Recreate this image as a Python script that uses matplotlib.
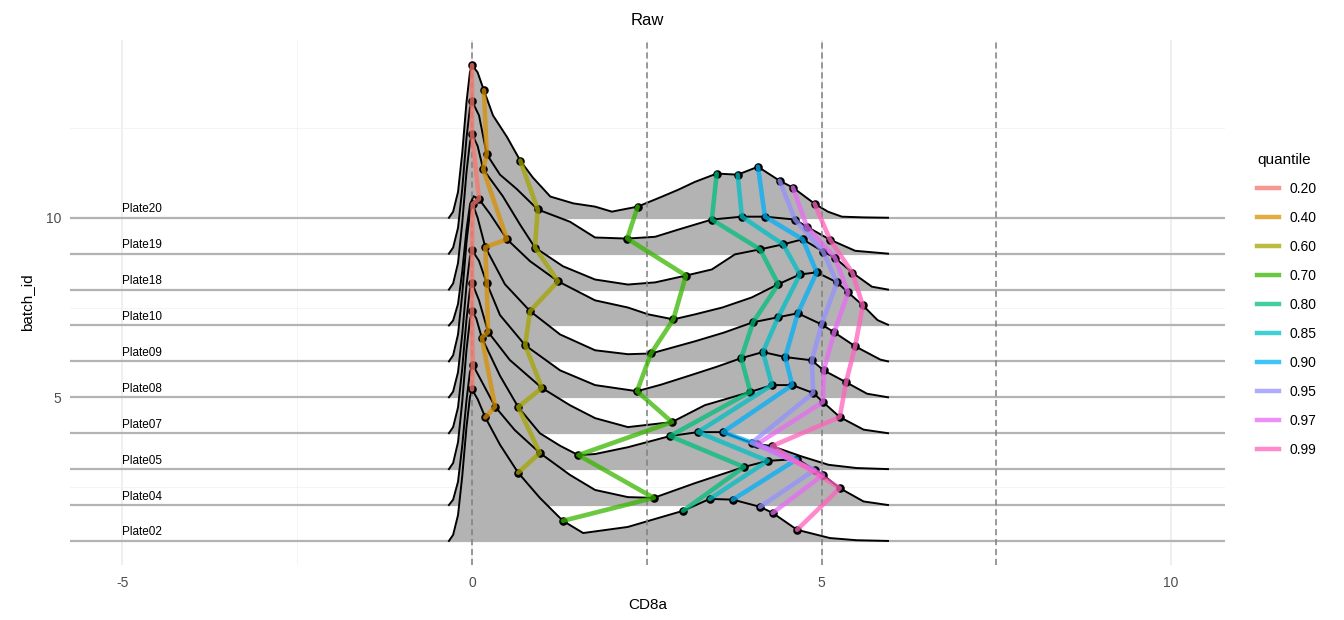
import numpy as np
import matplotlib.pyplot as plt
from matplotlib.lines import Line2D

plt.rcParams['font.family'] = ['Liberation Sans', 'DejaVu Sans']
plt.rcParams['axes.unicode_minus'] = False

# ridges, bottom to top
batches = ['Plate02', 'Plate04', 'Plate05', 'Plate07', 'Plate08',
           'Plate09', 'Plate10', 'Plate18', 'Plate19', 'Plate20']
batch_pos = [1, 2, 3, 4, 5, 6, 7, 8, 9, 10]

quantile_labels = ['0.20', '0.40', '0.60', '0.70', '0.80',
                   '0.85', '0.90', '0.95', '0.97', '0.99']
quantile_colors = ['#F8766D', '#D89000', '#A3A500', '#39B600', '#00BF7D',
                   '#00BFC4', '#00B0F6', '#9590FF', '#E76BF3', '#FF62BC']

# density outlines (x = CD8a, h = ridge height)
x_p02 = [-0.33, -0.27, -0.2, -0.14, -0.08, -0.03, 0.0, 0.08, 0.19, 0.4, 0.66, 0.97, 1.3, 1.59, 2.23, 2.72, 3.02, 3.4, 3.73, 4.12, 4.3, 4.65, 5.12, 5.5, 5.95]
h_p02 = [0, 0.17, 0.72, 1.8, 3.15, 4.0, 4.22, 3.95, 3.44, 2.68, 1.9, 1.2, 0.56, 0.22, 0.39, 0.67, 0.84, 1.17, 1.15, 0.95, 0.78, 0.31, 0.08, 0.02, 0]
x_p04 = [-0.33, -0.27, -0.2, -0.14, -0.08, -0.03, 0.01, 0.15, 0.33, 0.61, 0.97, 1.4, 1.76, 2.23, 2.6, 3.19, 3.89, 4.23, 4.65, 4.9, 5.02, 5.26, 5.6, 5.95]
h_p04 = [0, 0.15, 0.65, 1.65, 2.9, 3.7, 3.91, 3.4, 2.74, 2.09, 1.45, 0.84, 0.42, 0.22, 0.2, 0.61, 1.06, 1.23, 1.28, 0.98, 0.84, 0.47, 0.1, 0]
x_p05 = [-0.33, -0.27, -0.2, -0.14, -0.08, -0.03, 0.0, 0.06, 0.14, 0.4, 0.66, 0.97, 1.26, 1.52, 1.76, 2.23, 2.83, 3.23, 3.59, 4.0, 4.08, 4.29, 4.72, 5.1, 5.5, 5.95]
h_p05 = [0, 0.17, 0.75, 1.87, 3.3, 4.15, 4.39, 4.2, 3.66, 2.6, 1.73, 1.0, 0.65, 0.39, 0.42, 0.61, 0.92, 1.03, 1.03, 0.73, 0.7, 0.64, 0.35, 0.12, 0.03, 0]
x_p07 = [-0.33, -0.27, -0.2, -0.14, -0.08, -0.03, 0.0, 0.1, 0.23, 0.54, 1.0, 1.4, 1.76, 2.23, 2.86, 3.33, 3.98, 4.29, 4.58, 4.88, 5.02, 5.26, 5.6, 5.95]
h_p07 = [0, 0.17, 0.72, 1.8, 3.15, 4.0, 4.19, 3.7, 2.82, 2.04, 1.26, 0.78, 0.42, 0.17, 0.31, 0.78, 1.15, 1.34, 1.34, 1.12, 0.87, 0.45, 0.1, 0]
x_p08 = [-0.33, -0.27, -0.2, -0.14, -0.08, -0.03, 0.0, 0.1, 0.21, 0.4, 0.76, 1.26, 1.76, 2.36, 2.7, 3.12, 3.5, 3.85, 4.16, 4.48, 4.86, 5.03, 5.35, 5.65, 5.95]
h_p08 = [0, 0.16, 0.7, 1.75, 3.1, 3.9, 4.1, 3.8, 3.18, 2.29, 1.45, 0.75, 0.34, 0.17, 0.35, 0.61, 0.85, 1.09, 1.26, 1.12, 1.03, 0.75, 0.42, 0.1, 0]
x_p09 = [-0.33, -0.27, -0.2, -0.14, -0.08, -0.03, 0.01, 0.08, 0.19, 0.47, 0.83, 1.26, 1.76, 2.23, 2.56, 3.19, 3.6, 4.02, 4.38, 4.66, 5.0, 5.18, 5.48, 5.84, 5.95]
h_p09 = [0, 0.17, 0.75, 1.87, 3.3, 4.15, 4.38, 4.0, 3.18, 2.15, 1.4, 0.75, 0.31, 0.2, 0.22, 0.56, 0.8, 1.09, 1.23, 1.34, 1.03, 0.81, 0.42, 0.05, 0]
x_p10 = [-0.33, -0.27, -0.2, -0.14, -0.08, -0.03, 0.02, 0.1, 0.26, 0.5, 0.83, 1.23, 1.76, 2.23, 2.52, 2.88, 3.19, 3.58, 4.0, 4.38, 4.69, 4.93, 5.22, 5.38, 5.59, 5.8, 5.95]
h_p10 = [0, 0.14, 0.6, 1.5, 2.65, 3.35, 3.6, 3.52, 3.1, 2.4, 1.79, 1.23, 0.7, 0.5, 0.31, 0.17, 0.31, 0.5, 0.78, 1.15, 1.42, 1.48, 1.2, 0.92, 0.56, 0.15, 0.02]
x_p18 = [-0.33, -0.27, -0.2, -0.14, -0.08, -0.03, 0.0, 0.08, 0.16, 0.44, 0.69, 0.9, 1.3, 1.76, 2.23, 2.62, 3.06, 3.43, 3.76, 4.12, 4.45, 4.73, 5.02, 5.19, 5.44, 5.72, 5.95]
h_p18 = [0, 0.17, 0.74, 1.85, 3.25, 4.1, 4.33, 4.0, 3.35, 2.6, 1.8, 1.17, 0.65, 0.28, 0.14, 0.2, 0.39, 0.56, 0.98, 1.12, 1.26, 1.4, 1.06, 0.89, 0.47, 0.08, 0]
x_p19 = [-0.33, -0.27, -0.2, -0.14, -0.08, -0.03, 0.0, 0.1, 0.21, 0.4, 0.64, 0.94, 1.4, 1.76, 2.22, 2.62, 2.95, 3.19, 3.43, 3.86, 4.19, 4.62, 4.79, 5.12, 5.48, 5.95]
h_p19 = [0, 0.17, 0.72, 1.8, 3.2, 4.05, 4.25, 3.85, 2.77, 2.2, 1.8, 1.23, 0.89, 0.45, 0.42, 0.47, 0.67, 0.81, 0.95, 1.03, 1.03, 0.95, 0.75, 0.39, 0.08, 0]
x_p20 = [-0.33, -0.27, -0.2, -0.14, -0.08, -0.03, 0.0, 0.08, 0.17, 0.3, 0.5, 0.69, 0.87, 1.12, 1.45, 1.76, 2.0, 2.37, 2.72, 2.95, 3.19, 3.5, 3.8, 4.09, 4.4, 4.59, 4.9, 5.09, 5.29, 5.6, 5.95]
h_p20 = [0, 0.17, 0.72, 1.8, 3.2, 4.05, 4.25, 4.05, 3.55, 2.85, 2.25, 1.59, 1.12, 0.59, 0.4, 0.31, 0.17, 0.31, 0.59, 0.78, 1.0, 1.23, 1.2, 1.42, 1.03, 0.84, 0.39, 0.17, 0.03, 0.01, 0]

# quantile positions per batch (same order as quantile_labels)
q_p02 = [0.0, 0.19, 0.66, 1.3, 3.02, 3.4, 3.73, 4.12, 4.3, 4.65]
q_p04 = [0.01, 0.33, 0.97, 2.6, 3.89, 4.23, 4.65, 4.9, 5.02, 5.26]
q_p05 = [0.0, 0.14, 0.66, 1.52, 2.83, 3.23, 3.59, 4.0, 4.08, 4.29]
q_p07 = [0.0, 0.23, 1.0, 2.86, 3.98, 4.29, 4.58, 4.88, 5.02, 5.26]
q_p08 = [0.0, 0.21, 0.76, 2.36, 3.85, 4.16, 4.48, 4.86, 5.03, 5.35]
q_p09 = [0.01, 0.19, 0.83, 2.56, 4.02, 4.38, 4.66, 5.0, 5.18, 5.48]
q_p10 = [0.1, 0.5, 1.23, 2.88, 4.38, 4.69, 4.93, 5.22, 5.38, 5.59]
q_p18 = [0.0, 0.16, 0.9, 3.06, 4.12, 4.45, 4.73, 5.02, 5.19, 5.44]
q_p19 = [0.0, 0.21, 0.94, 2.22, 3.43, 3.86, 4.19, 4.62, 4.79, 5.12]
q_p20 = [0.0, 0.17, 0.69, 2.37, 3.5, 3.8, 4.09, 4.4, 4.59, 4.9]

ridge_x = [x_p02, x_p04, x_p05, x_p07, x_p08, x_p09, x_p10, x_p18, x_p19, x_p20]
ridge_h = [h_p02, h_p04, h_p05, h_p07, h_p08, h_p09, h_p10, h_p18, h_p19, h_p20]
ridge_q = [q_p02, q_p04, q_p05, q_p07, q_p08, q_p09, q_p10, q_p18, q_p19, q_p20]

fig = plt.figure(figsize=(13.44, 6.2), dpi=100)
ax = fig.add_axes([70 / 1344, 55 / 620, 1155 / 1344, 525 / 620])

for b in batch_pos:
    ax.axhline(b, color='#b3b3b3', lw=1.6, zorder=1.5)

# back ridges first, front ones on top
for i in reversed(range(len(batches))):
    base = batch_pos[i]
    xs = np.array(ridge_x[i])
    ys = base + np.array(ridge_h[i])
    z = 2 + (9 - i) * 0.1
    ax.fill_between(xs, base, ys, color='#b3b3b3', lw=0, zorder=z)
    ax.plot(xs, ys, color='black', lw=1.4, zorder=z + 0.05, solid_joinstyle='round')
    ax.text(-5, base + 0.07, batches[i], fontsize=8.5, ha='left', va='bottom', zorder=6)

for v in [0, 2.5, 5, 7.5]:
    ax.axvline(v, color='#7f7f7f', lw=1.1, ls=(0, (4, 2.5)), zorder=3.5)

for j in range(len(quantile_labels)):
    qx = [ridge_q[i][j] for i in range(len(batches))]
    qy = [batch_pos[i] + np.interp(ridge_q[i][j], ridge_x[i], ridge_h[i])
          for i in range(len(batches))]
    ax.scatter(qx, qy, s=38, color='black', zorder=4, lw=0)
    ax.plot(qx, qy, color=quantile_colors[j], lw=3.3, alpha=0.75,
            solid_capstyle='round', zorder=5)

ax.set_xlim(-5.75, 10.77)
ax.set_ylim(0.33, 14.95)
ax.set_xticks([-5, 0, 5, 10])
ax.set_xticks([-2.5, 2.5, 7.5], minor=True)
ax.set_yticks([5, 10])
ax.set_yticks([2.5, 7.5, 12.5], minor=True)
ax.tick_params(which='both', length=0, colors='#4d4d4d', labelsize=10)
ax.tick_params(axis='x', pad=8)
ax.tick_params(axis='y', pad=6)
ax.grid(which='major', color='#ebebeb', lw=1.1)
ax.grid(which='minor', color='#f2f2f2', lw=0.6)
ax.set_axisbelow(True)
for s in ax.spines.values():
    s.set_visible(False)

ax.set_title('Raw', fontsize=12, pad=11)
ax.set_xlabel('CD8a', fontsize=11, labelpad=6)
ax.set_ylabel('batch_id', fontsize=11, labelpad=9)

handles = [Line2D([0], [0], color=c, lw=3.2, alpha=0.75) for c in quantile_colors]
fig.legend(handles, quantile_labels, title='quantile', loc='upper left',
           bbox_to_anchor=(1250 / 1344, 1 - 146 / 620), frameon=False,
           fontsize=10, title_fontsize=11, handlelength=1.6, handletextpad=0.75,
           labelspacing=1.08, borderpad=0, alignment='left')

fig.savefig('out.png', dpi=100)
